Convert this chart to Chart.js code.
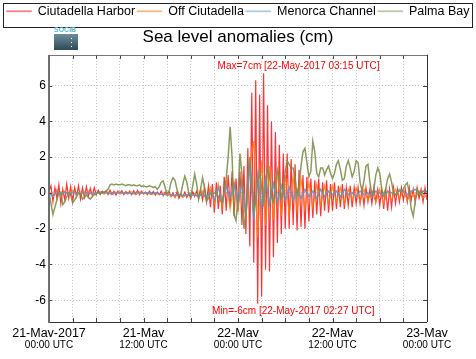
<!DOCTYPE html>
<html><head><meta charset="utf-8">
<script src="https://cdn.jsdelivr.net/npm/chart.js@4/dist/chart.umd.min.js"></script>
<style>html,body{margin:0;padding:0;background:#fff}canvas{display:block}</style>
</head><body>
<canvas id="c" width="476" height="359"></canvas>
<script>
// ---- data (hours since 21-May-2017 00:00 UTC, sea level anomaly in cm) ----
const seriesNames = ['Ciutadella Harbor', 'Off Ciutadella', 'Menorca Channel', 'Palma Bay'];
const dayLabels = ['21-May-2017', '21-May', '22-May', '22-May', '23-May'];
const hourLabels = ['00:00 UTC', '12:00 UTC', '00:00 UTC', '12:00 UTC', '00:00 UTC'];
const yTicks = [-6, -4, -2, 0, 2, 4, 6];

const ciutadellaStep = 0.25; // hours between samples
const ciutadellaHarbor = [0.1,0.4,-0.5,0.3,-0.3,0.45,-0.6,0.2,-0.4,0.5,-0.3,0.35,-0.5,0.3,-0.2,0.4,-0.35,0.3,-0.25,0.35,-0.2,0.25,-0.15,0.3,-0.1,
 0.15,-0.1,0.1,-0.05,0.12,-0.1,0.15,-0.08,0.1,-0.12,0.1,-0.05,0.12,-0.1,0.08,-0.05,0.1,-0.1,0.12,-0.05,0.15,-0.1,0.1,-0.05,
 0.05,-0.1,0.1,-0.05,0.08,-0.12,0.05,-0.1,0.1,-0.15,0.05,-0.1,0.08,-0.2,0.0,-0.25,0.05,-0.3,-0.05,-0.2,0.05,-0.25,0.0,-0.3,0.05,-0.2,0.1,-0.3,
 0.2,-0.4,0.35,-0.5,0.4,-0.8,0.5,-1.1,0.6,-0.9,0.4,-1.2,
 0.9,-1.0,1.0,-0.8,1.2,-1.3,0.8,-1.0,
 1.2,-1.8,1.5,-2.3,2.5,-3.0,5.6,-3.9,
 6.3,-6.2,5.5,-5.8,6.7,-4.3,4.9,-4.4,
 4.0,-3.6,3.4,-2.8,2.7,-2.3,2.2,-2.0,
 2.2,-2.0,1.9,-1.8,1.6,-2.1,1.3,-1.9,1.0,-2.0,0.9,-1.6,
 0.8,-1.4,0.7,-1.2,0.8,-1.3,0.6,-1.0,0.7,-1.1,0.5,-1.0,
 0.6,-0.9,0.4,-0.8,0.5,-0.9,0.3,-0.7,0.4,-0.8,0.3,-0.6,
 0.3,-0.6,0.2,-0.7,0.3,-0.5,0.2,-0.6,0.3,-0.5,0.2,-0.7,
 0.2,-0.9,0.3,-1.0,0.2,-0.8,0.3,-0.6,0.2,-0.5,0.3,-0.4,
 0.2,-0.5,0.3,-0.4,0.2,-0.5,0.3,-0.3,0.2,-0.5,0.3,-0.4];

const offStep = 0.5;
const offCiutadella = [0.1,-0.2,0.2,-0.15,0.1,-0.1,0.15,-0.1,0.05,-0.1,0.1,-0.05,0.0,
 0.05,-0.05,0.05,-0.1,0.05,-0.05,0.0,-0.05,0.05,-0.1,0.0,-0.05,
 0.0,-0.1,0.0,-0.1,-0.05,-0.15,-0.1,-0.2,-0.1,-0.25,-0.1,-0.2,-0.05,-0.25,
 0.1,-0.4,0.3,-0.6,0.5,-0.8,0.7,-0.9,0.6,-1.0,
 0.8,-1.5,1.5,2.9,-2.5,1.8,
 -1.8,1.5,-1.5,1.2,-1.3,1.0,-1.2,0.9,-1.0,0.8,-0.9,0.6,-0.8,0.5,-0.7,0.4,-0.6,0.4,-0.5,0.3,-0.6,0.2,-0.4,0.3,-0.5,0.2,-0.4,0.1,-0.5,0.2,-0.6,0.1,-0.4,0.2,-0.3,0.1,-0.4,0.0,-0.3,0.1,-0.3,-0.1];

const menorcaStep = 0.5;
const menorcaChannel = [0.0,-0.2,0.1,-0.1,0.05,-0.1,0.05,0.0,-0.05,0.05,0.0,-0.05,0.0,
 0.0,0.05,0.0,-0.05,0.0,0.05,0.0,0.0,-0.05,0.0,0.05,0.0,
 0.0,-0.05,0.0,-0.05,-0.1,-0.05,-0.1,-0.15,-0.1,-0.15,-0.1,-0.15,-0.1,-0.2,
 -0.05,-0.3,0.1,-0.4,0.3,-0.5,0.4,-0.3,0.5,-0.6,
 0.6,-1.2,1.6,-1.5,1.0,-0.8,0.8,-0.6,0.5,-0.5,0.4,-0.4,
 0.3,-0.4,0.2,-0.3,0.2,-0.2,0.1,-0.3,0.2,-0.2,0.1,-0.1,
 0.1,-0.2,0.2,-0.1,0.0,-0.2,0.1,-0.1,0.0,-0.2,0.1,0.0,
 -0.2,0.1,0.0,-0.1,0.2,0.1,-0.1,0.1,0.2,0.0,0.1,0.1];

const palmaStep = 0.25;
const palmaBay = [0.0,-0.6,-1.2,-0.8,-0.4,0.0,0.05,-0.65,-0.5,-0.2,0.0,-0.1,-0.55,-0.4,-0.2,0.0,-0.05,-0.35,-0.25,-0.1,-0.25,-0.35,-0.2,-0.1,-0.05,
 0.0,0.05,0.0,0.05,0.1,0.2,0.45,
 0.5,0.45,0.5,0.45,0.45,0.5,0.45,0.4,0.45,0.45,0.4,0.45,0.4,0.4,0.45,
 0.35,0.4,0.35,0.35,0.4,0.35,0.3,0.35,
 0.2,0.35,0.6,0.67,0.3,-0.05,0.1,0.6,0.85,0.7,0.2,-0.15,-0.05,0.5,0.95,0.6,0.0,-0.2,0.4,1.05,0.5,-0.35,0.2,0.85,0.3,-0.45,-0.3,-0.05,-0.05,0.0,0.0,-0.2,-0.45,-0.5,
 0.1,0.8,2.0,3.7,2.0,-1.2,-1.55,-0.3,2.2,1.0,-2.0,-1.2,0.8,2.0,0.5,-1.0,
 -0.5,0.6,1.2,0.3,-0.6,0.2,1.4,1.0,-0.2,-0.5,0.5,1.3,0.8,-0.3,0.2,1.2,1.8,1.6,1.4,1.4,0.8,
 -0.2,0.4,1.5,2.3,2.5,1.7,0.9,1.2,2.9,2.3,1.1,0.9,1.4,1.4,1.0,1.3,1.5,1.1,0.8,1.1,1.6,1.8,1.3,0.7,0.8,1.5,1.8,1.4,0.9,1.2,1.8,1.7,0.6,0.1,0.7,1.5,1.6,0.6,-0.1,0.2,1.0,1.4,1.1,0.2,-0.1,0.2,0.8,1.05,0.6,0.0,-0.1,0.05,0.1,0.1,0.2,0.45,0.57,0.0,-0.9,-1.3,-0.5,0.2,0.0,-0.1,0.1,0.1,0.05];

const maxTime = 27.25, maxLabel = 'Max=7cm [22-May-2017 03:15 UTC]';
const minTime = 26.45, minLabel = 'Min=-6cm [22-May-2017 02:27 UTC]';

// ---- chart ----
const FONT = '"Liberation Sans", Arial, Helvetica, sans-serif';
const toPts = (vals, step) => vals.map((v, i) => ({x: i * step, y: v}));

const ds = (label, vals, step, color, legendColor, w) => ({
  label, data: toPts(vals, step), borderColor: color, backgroundColor: color,
  legendColor, borderWidth: w, pointRadius: 0, tension: 0, fill: false
});

const decor = {
  id: 'decor',
  afterDraw(chart) {
    const {ctx, chartArea: a, scales} = chart;
    const xs = scales.x, ys = scales.y;
    ctx.save();
    // legend frame
    const lg = chart.legend;
    ctx.strokeStyle = '#222'; ctx.lineWidth = 1;
    ctx.strokeRect(3.5, Math.round(lg.top) + 0.5, chart.width - 7, Math.round(lg.height) - 1);
    // inward ticks
    ctx.strokeStyle = '#444'; ctx.lineWidth = 1;
    xs.ticks.forEach(t => {
      const px = Math.round(xs.getPixelForValue(t.value)) + 0.5;
      ctx.beginPath();
      ctx.moveTo(px, a.bottom); ctx.lineTo(px, a.bottom - 4);
      ctx.moveTo(px, a.top); ctx.lineTo(px, a.top + 4);
      ctx.stroke();
    });
    yTicks.forEach(v => {
      const py = Math.round(ys.getPixelForValue(v)) + 0.5;
      ctx.beginPath();
      ctx.moveTo(a.right, py); ctx.lineTo(a.right - 4, py);
      ctx.moveTo(a.left, py); ctx.lineTo(a.left + 3, py);
      ctx.stroke();
    });
    // frame
    ctx.strokeStyle = '#333'; ctx.lineWidth = 1;
    ctx.beginPath();
    ctx.moveTo(a.left, Math.round(a.bottom) + 0.5); ctx.lineTo(a.right, Math.round(a.bottom) + 0.5);
    ctx.moveTo(Math.round(a.right) + 0.5, a.top); ctx.lineTo(Math.round(a.right) + 0.5, a.bottom);
    ctx.stroke();
    ctx.strokeStyle = '#777';
    ctx.beginPath();
    ctx.moveTo(a.left, Math.round(a.top) + 0.5); ctx.lineTo(a.right, Math.round(a.top) + 0.5);
    ctx.stroke();
    ctx.lineWidth = 2; ctx.strokeStyle = '#6e6e6e';
    ctx.beginPath();
    ctx.moveTo(Math.round(a.left), a.top); ctx.lineTo(Math.round(a.left), a.bottom + 1);
    ctx.stroke();
    // max / min annotations
    ctx.fillStyle = '#ff0000';
    ctx.font = '10px ' + FONT;
    ctx.textAlign = 'center'; ctx.textBaseline = 'middle';
    ctx.fillText(maxLabel, xs.getPixelForValue(maxTime) + 35, a.top + 11);
    ctx.fillText(minLabel, xs.getPixelForValue(minTime) + 36, a.bottom - 11);
    // SOCIB logo
    const lx = 54, ly = 27;
    const g = ctx.createLinearGradient(0, ly + 7, 0, ly + 23);
    g.addColorStop(0, '#6d8e9c'); g.addColorStop(1, '#2f4956');
    ctx.fillStyle = g;
    ctx.fillRect(lx, ly + 7, 24, 16);
    ctx.fillStyle = '#5fb6c9';
    ctx.font = 'bold 7px ' + FONT;
    ctx.textAlign = 'left'; ctx.textBaseline = 'top';
    ctx.fillText('SOCIB', lx, ly);
    ctx.fillStyle = '#ffffff';
    ctx.fillRect(lx + 17, ly + 11, 1, 1);
    ctx.fillRect(lx + 17, ly + 15, 1, 1);
    ctx.fillRect(lx + 17, ly + 19, 1, 1);
    ctx.restore();
  }
};

new Chart(document.getElementById('c'), {
  type: 'line',
  data: {
    datasets: [
      ds(seriesNames[3], palmaBay, palmaStep, 'rgba(125,145,75,0.9)', '#a9c393', 1.5),
      ds(seriesNames[2], menorcaChannel, menorcaStep, 'rgba(105,145,205,0.9)', '#a3c0e2', 1.5),
      ds(seriesNames[1], offCiutadella, offStep, 'rgba(255,125,0,0.85)', '#ffaa66', 1.2),
      ds(seriesNames[0], ciutadellaHarbor, ciutadellaStep, 'rgba(255,0,0,0.8)', '#ff6676', 1.2)
    ]
  },
  plugins: [decor],
  options: {
    responsive: false, animation: false, devicePixelRatio: 1,
    layout: {padding: {left: 3, right: 3, top: 3, bottom: 7}},
    plugins: {
      tooltip: {enabled: false},
      legend: {
        reverse: true, weight: 3000,
        labels: {
          font: {family: FONT, size: 12.5}, color: '#000',
          boxWidth: 25, boxHeight: 1, padding: 2,
          generateLabels(chart) {
            return chart.data.datasets.map((d, i) => ({
              text: d.label, strokeStyle: d.legendColor, fillStyle: d.legendColor,
              lineWidth: 0.5, datasetIndex: i, hidden: false
            }));
          }
        }
      },
      title: {
        display: true, text: 'Sea level anomalies (cm)', color: '#000', weight: 2000,
        font: {family: FONT, size: 17, weight: 'normal'},
        padding: {top: 0, bottom: 7}
      }
    },
    scales: {
      x: {
        type: 'linear', min: 0, max: 48, weight: 0,
        afterBuildTicks: s => { s.ticks = []; for (let h = 0; h <= 48; h += 3) s.ticks.push({value: h}); },
        ticks: {
          autoSkip: false, maxRotation: 0, padding: 4.5, color: '#000',
          font: {family: FONT, size: 12.5, lineHeight: 1.2},
          callback: v => (v % 12 === 0 ? dayLabels[v / 12] : '')
        },
        grid: {color: '#c4c4c4', lineWidth: 1, drawTicks: false},
        border: {display: false, dash: [1, 2]},
        afterFit: s => { s.height = 15; }
      },
      x2: {
        type: 'linear', position: 'bottom', min: 0, max: 48, weight: 1,
        afterBuildTicks: s => { s.ticks = hourLabels.map((_, i) => ({value: i * 12})); },
        ticks: {
          autoSkip: false, maxRotation: 0, padding: 2.5, color: '#000',
          font: {family: FONT, size: 10, lineHeight: 1.2},
          callback: v => hourLabels[v / 12]
        },
        grid: {display: false, drawTicks: false},
        border: {display: false},
        afterFit: s => { s.height = 15; }
      },
      y: {
        min: -7.22, max: 7.72,
        afterBuildTicks: s => { s.ticks = yTicks.map(v => ({value: v})); },
        ticks: {padding: 3, color: '#000', font: {family: FONT, size: 12}},
        grid: {color: '#c4c4c4', lineWidth: 1, drawTicks: false},
        border: {display: false, dash: [1, 2]},
        afterFit: s => { s.width = 46; }
      },
      yRight: {
        position: 'right', min: -7.22, max: 7.72,
        ticks: {display: false}, grid: {display: false, drawTicks: false},
        border: {display: false},
        afterFit: s => { s.width = 46; }
      }
    }
  }
});
</script>
</body></html>
